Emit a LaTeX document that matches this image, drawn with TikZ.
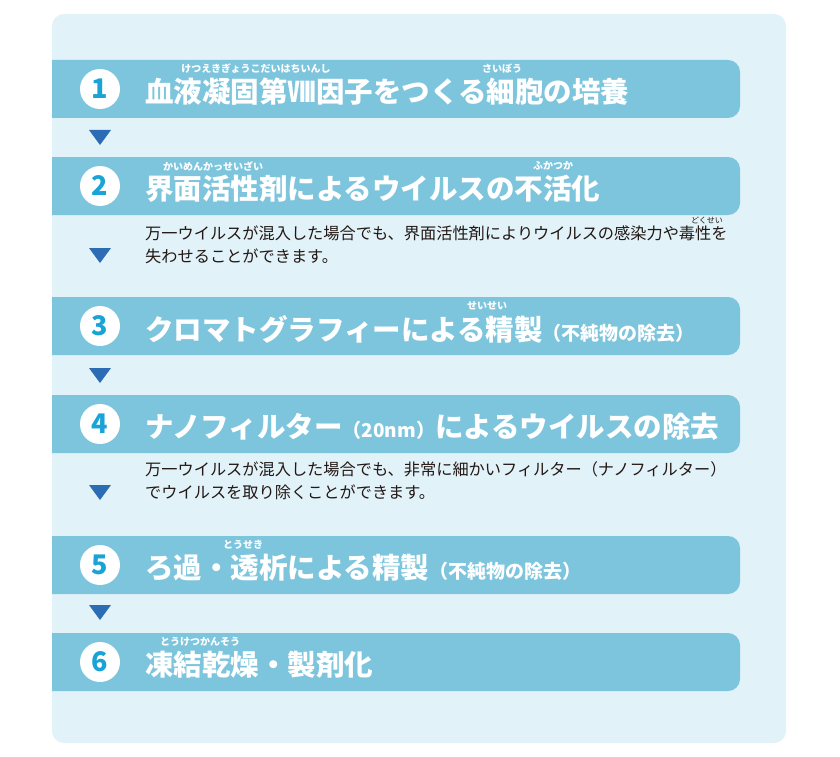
\documentclass[tikz,border=0pt]{standalone}
\usepackage{fontspec}
\newfontfamily\jp{Noto Sans CJK JP}
\definecolor{bg}{HTML}{E1F2F8}
\definecolor{bar}{HTML}{7DC5DD}
\definecolor{num}{HTML}{1AA3D6}
\definecolor{tri}{HTML}{2B6CB5}
\definecolor{txt}{HTML}{231815}
\newcommand\smpar[1]{{\fontsize{19}{19}\selectfont #1}}
\begin{document}
\begin{tikzpicture}[x=1pt,y=-1pt,
  title/.style={anchor=west,inner sep=0,text=white,font=\jp\bfseries\fontsize{28.5}{28.5}\selectfont},
  ruby/.style={inner sep=0,text=white,font=\jp\bfseries\fontsize{10}{10}\selectfont},
  rubyd/.style={inner sep=0,text=txt,font=\jp\fontsize{8}{8}\selectfont},
  desc/.style={anchor=west,inner sep=0,text=txt,font=\jp\fontsize{16.2}{16.2}\selectfont},
  numc/.style={circle,fill=white,minimum size=40pt,inner sep=0,text=num,font=\jp\bfseries\fontsize{27}{27}\selectfont},
  arrowtri/.style={fill=tri}]
\useasboundingbox (0,0) rectangle (840,757);
\fill[bg,rounded corners=12pt] (52,14) rectangle (786,743);
\foreach \y in {60,157,297,395,536,633}{
  \fill[bar,rounded corners=12pt] (40,\y) rectangle (740,\y+58);
}
\fill[white] (0,0) rectangle (52,757);
\foreach \n/\y in {1/89,2/186,3/326,4/424,5/565,6/662}{
  \node[numc] (c\n) at (100,\y) {\n};
}
\foreach \y in {137,255,375,492,612}{
  \fill[arrowtri] (89,\y-7) -- (111,\y-7) -- (100,\y+8) -- cycle;
}
\node[title] (t1) at (145,92) {血液凝固第Ⅷ因子をつくる細胞の培養};
\node[ruby] (r1a) at (256,69) {けつえきぎょうこだいはちいんし};
\node[ruby] (r1b) at (502,69) {さいぼう};
\node[title] (t2) at (145,189) {界面活性剤によるウイルスの不活化};
\node[ruby] (r2a) at (213,166) {かいめんかっせいざい};
\node[ruby] (r2b) at (553,166) {ふかつか};
\node[desc] (d2a) at (145,233) {万一ウイルスが混入した場合でも、界面活性剤によりウイルスの感染力や毒性を};
\node[desc] (d2b) at (145,256) {失わせることができます。};
\node[rubyd] (r2c) at (707,220) {どくせい};
\node[title] (t3) at (145,329) {クロマトグラフィーによる精製\smpar{（不純物の除去）}};
\node[ruby] (r3) at (487,306) {せいせい};
\node[title] (t4) at (145,427) {ナノフィルター\smpar{（20nm）}によるウイルスの除去};
\node[desc] (d4a) at (145,469) {万一ウイルスが混入した場合でも、非常に細かいフィルター（ナノフィルター）};
\node[desc] (d4b) at (145,492) {でウイルスを取り除くことができます。};
\node[title] (t5) at (145,568) {ろ過・透析による精製\smpar{（不純物の除去）}};
\node[ruby] (r5) at (243,545) {とうせき};
\node[title] (t6) at (145,665) {凍結乾燥・製剤化};
\node[ruby] (r6) at (200,642) {とうけつかんそう};
\end{tikzpicture}
\end{document}
